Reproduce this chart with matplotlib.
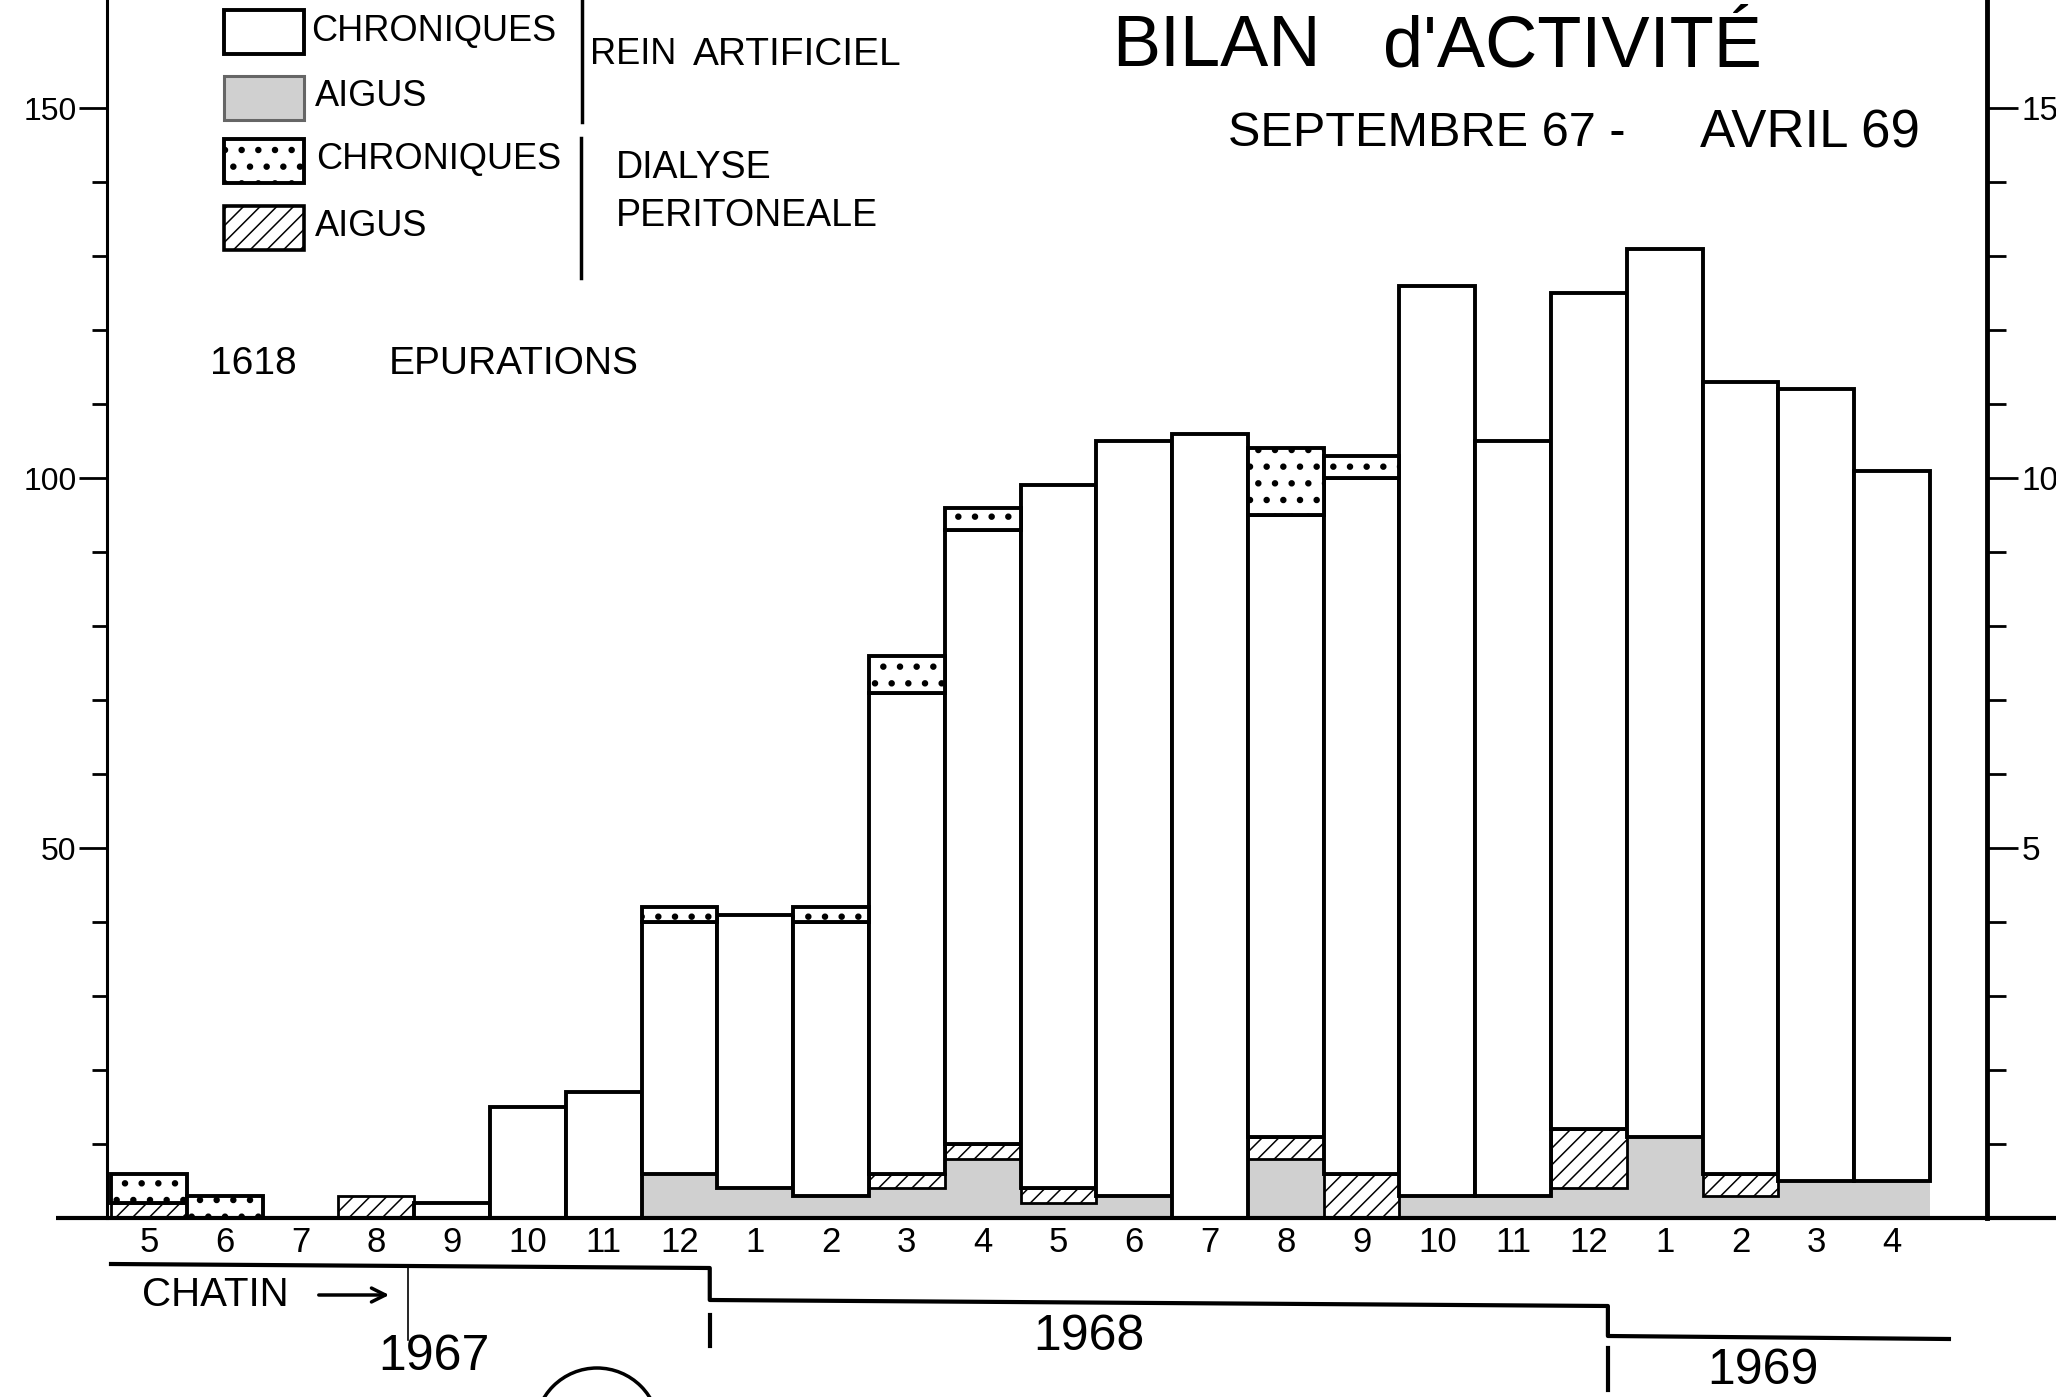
import numpy as np
import matplotlib
matplotlib.use("Agg")
import matplotlib.pyplot as plt
import matplotlib.patches as mpatches
import matplotlib.transforms as mtransforms
from matplotlib.lines import Line2D

plt.rcParams['font.family'] = ['Liberation Sans', 'DejaVu Sans']
plt.rcParams['hatch.linewidth'] = 1.1

# months, May 1967 -> April 1969
months = [5, 6, 7, 8, 9, 10, 11, 12, 1, 2, 3, 4, 5, 6, 7, 8, 9, 10, 11, 12, 1, 2, 3, 4]

# epurations per month, stacked from the bottom up
aigus_rein = [0, 0, 0, 0, 0, 0, 0, 6, 4, 3, 4, 8, 2, 3, 0, 8, 0, 3, 3, 4, 11, 3, 5, 5]
aigus_dialyse = [2, 0, 0, 3, 0, 0, 0, 0, 0, 0, 2, 2, 2, 0, 0, 3, 6, 0, 0, 8, 0, 3, 0, 0]
chroniques_rein = [0, 0, 0, 0, 2, 15, 17, 34, 37, 37, 65, 83, 95, 102, 106, 84, 94, 123, 102, 113, 120, 107, 107, 96]
chroniques_dialyse = [4, 3, 0, 0, 0, 0, 0, 2, 0, 2, 5, 3, 0, 0, 0, 9, 3, 0, 0, 0, 0, 0, 0, 0]

legend_labels = ['CHRONIQUES', 'AIGUS', 'CHRONIQUES', 'AIGUS']
years = ['1967', '1968', '1969']

W, H = 2056, 1397
fig = plt.figure(figsize=(W / 100, H / 100), dpi=100)
# image pixel coordinates, origin at top left
px = mtransforms.Affine2D().scale(1 / W, -1 / H).translate(0, 1) + fig.transFigure

base_y = 1218
unit = 7.4
ax = fig.add_axes([107 / W, 1 - base_y / H, (1987 - 107) / W, base_y / H])
ax.set_ylim(0, base_y / unit)
ax.set_xlim(-4 / 75.8, 24 + 57 / 75.8)

GRAY = '#d0d0d0'
gray = dict(facecolor=GRAY, edgecolor='none', linewidth=0)
hatched = dict(facecolor='white', edgecolor='black', hatch='//', linewidth=2.0)
plain = dict(facecolor='white', edgecolor='black', linewidth=2.8)
dotted = dict(facecolor='white', edgecolor='black', hatch='.', linewidth=2.8)


def with_hatch_width(hatch_lw, func, *args, **kwargs):
    # hatch line width is picked up when the patch is created
    old = plt.rcParams['hatch.linewidth']
    plt.rcParams['hatch.linewidth'] = hatch_lw
    out = func(*args, **kwargs)
    plt.rcParams['hatch.linewidth'] = old
    return out


x = np.arange(len(months))
bottom = np.zeros(len(months))
for vals, style, hw in [(aigus_rein, gray, 1.1), (aigus_dialyse, hatched, 1.1),
                        (chroniques_rein, plain, 1.1), (chroniques_dialyse, dotted, 2.2)]:
    vals = np.asarray(vals, float)
    m = vals > 0
    with_hatch_width(hw, ax.bar, x[m], vals[m], bottom=bottom[m], width=1,
                     align='edge', **style)
    bottom += vals

# baseline runs past both axes
ax.plot([-0.027, 1.04], [0, 0], transform=ax.get_yaxis_transform(),
        color='black', lw=3, clip_on=False, solid_capstyle='butt')

for s in ['top', 'right', 'bottom']:
    ax.spines[s].set_visible(False)
ax.spines['left'].set_linewidth(2.2)
ax.set_yticks([50, 100, 150])
ax.set_yticks([v for v in range(10, 150, 10) if v % 50], minor=True)
ax.tick_params(axis='y', which='major', length=20, width=2, labelsize=23, pad=2)
ax.tick_params(axis='y', which='minor', length=11, width=2)
ax.set_xticks(x + 0.5, [str(m) for m in months])
ax.tick_params(axis='x', length=0, labelsize=25, pad=6)

ax2 = ax.twinx()
ax2.set_ylim(0, ax.get_ylim()[1] / 10)
for s in ['top', 'left', 'bottom']:
    ax2.spines[s].set_visible(False)
ax2.spines['right'].set_linewidth(3.5)
ax2.set_yticks([5, 10, 15])
ax2.set_yticks([v for v in range(1, 15) if v % 5], minor=True)
ax2.tick_params(axis='y', which='major', length=22, width=2, labelsize=24, pad=3)
ax2.tick_params(axis='y', which='minor', length=14, width=2)

# legend
box_tops = [10, 76, 139, 206]
box_styles = [plain, dict(facecolor=GRAY, edgecolor='#666666', linewidth=2.2),
              dotted, dict(hatched, linewidth=2.6)]
box_hatch = [1.1, 1.1, 2.2, 1.1]
label_x = [311, 315, 316, 315]
for top, style, hw, lx, label in zip(box_tops, box_styles, box_hatch, label_x, legend_labels):
    rect = with_hatch_width(hw, mpatches.Rectangle, (224, top), 80, 44, transform=px, **style)
    fig.add_artist(rect)
    fig.text(lx, top + 21, label, transform=px, va='center', ha='left', fontsize=26)

fig.add_artist(Line2D([582, 582], [0, 122], transform=px, color='black', lw=2.5))
fig.add_artist(Line2D([581, 581], [138, 278], transform=px, color='black', lw=2.5))
fig.text(590, 55, 'REIN', transform=px, va='center', fontsize=26)
fig.text(693, 55, 'ARTIFICIEL', transform=px, va='center', fontsize=28)
fig.text(616, 168, 'DIALYSE', transform=px, va='center', fontsize=27)
fig.text(616, 216, 'PERITONEALE', transform=px, va='center', fontsize=27)

fig.text(1112, 48, 'BILAN', transform=px, va='center', fontsize=52)
fig.text(1383, 48, "d'ACTIVITÉ", transform=px, va='center', fontsize=52)
fig.text(1228, 134, 'SEPTEMBRE 67 -', transform=px, va='center', fontsize=35)
fig.text(1700, 134, 'AVRIL 69', transform=px, va='center', fontsize=38)
fig.text(210, 364, '1618', transform=px, va='center', fontsize=28)
fig.text(389, 364, 'EPURATIONS', transform=px, va='center', fontsize=28)

# year band under the months
blend = mtransforms.blended_transform_factory(ax.transData, px)
ax.plot([0, 7.9, 7.9, 19.75, 19.75, 24.25], [1264, 1268, 1300, 1306, 1336, 1339],
        transform=blend, color='black', lw=3, clip_on=False)
ax.plot([7.9, 7.9], [1315, 1346], transform=blend, color='black', lw=3, clip_on=False)
ax.plot([19.75, 19.75], [1348, 1390], transform=blend, color='black', lw=3, clip_on=False)
ax.plot([3.92, 3.92], [1266, 1340], transform=blend, color='black', lw=1.2, clip_on=False)

fig.text(142, 1295, 'CHATIN', transform=px, va='center', fontsize=29)
ax.annotate('', xy=(392, 1295), xytext=(316, 1295), xycoords=px, textcoords=px,
            arrowprops=dict(arrowstyle='->', lw=2.5, mutation_scale=25),
            annotation_clip=False)
fig.text(378, 1357, years[0], transform=px, va='center', fontsize=36)
fig.text(1033, 1337, years[1], transform=px, va='center', fontsize=36)
fig.text(1707, 1371, years[2], transform=px, va='center', fontsize=36)

# stamp at the bottom edge
fig.add_artist(mpatches.Circle((597, 1430), 62, transform=px, fill=False,
                               edgecolor='black', lw=2.5))

fig.savefig('out.png', dpi=100)
